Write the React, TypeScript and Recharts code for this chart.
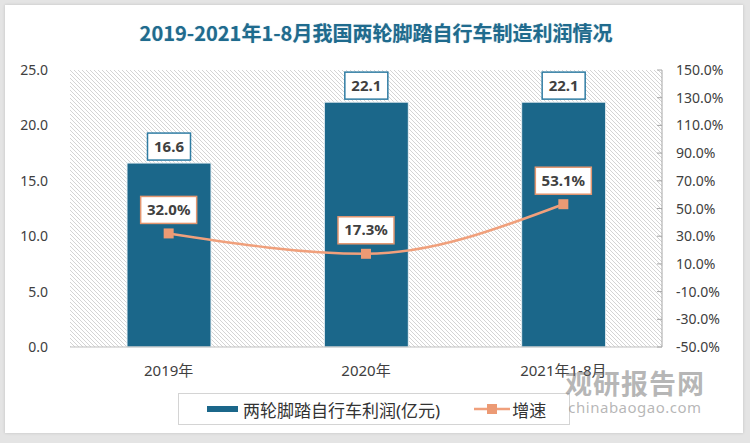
import React from 'react';
import { ComposedChart, Bar, Line, XAxis, YAxis, CartesianGrid, LabelList, Legend } from 'recharts';

// Kategorien und Werte aus dem Bild
const categories = ['2019年', '2020年', '2021年1-8月'];
const profit = [16.6, 22.1, 22.1];
const growth = [32.0, 17.3, 53.1];
const leftTicks = [0, 5, 10, 15, 20, 25];
const rightTicks = [-50, -30, -10, 10, 30, 50, 70, 90, 110, 130, 150];

const BAR_COLOR = '#1b678a';
const LINE_COLOR = '#f0a07c';
const FONT = '"Noto Sans", "Noto Sans CJK SC", sans-serif';

const data = categories.map((name, i) => ({ name, profit: profit[i], growth: growth[i] }));

// Kästchen über den Balken
const BarLabel = (props: any) => {
  const { x, y, width, value } = props;
  const cx = x + width / 2;
  const w = 43;
  const h = 27;
  return (
    <g>
      <rect x={cx - w / 2} y={y - 3 - h} width={w} height={h} fill="#fff" stroke="#2f7ca3" strokeWidth={1.5} />
      <text x={cx} y={y - 3 - h / 2 + 5} textAnchor="middle" fontSize={15} fontWeight="bold" fill="#404040" fontFamily={FONT}>
        {Number(value).toFixed(1)}
      </text>
    </g>
  );
};

// Kästchen über den Punkten
const LineLabel = (props: any) => {
  const { x, y, value } = props;
  const w = 56;
  const h = 27;
  return (
    <g>
      <rect x={x - w / 2} y={y - 10 - h} width={w} height={h} fill="#fff" stroke="#e39670" strokeWidth={1.5} />
      <text x={x} y={y - 10 - h / 2 + 5} textAnchor="middle" fontSize={15} fontWeight="bold" fill="#404040" fontFamily={FONT}>
        {Number(value).toFixed(1)}%
      </text>
    </g>
  );
};

const SquareDot = (props: any) => {
  const { cx, cy } = props;
  if (cx == null || cy == null) return null;
  return <rect x={cx - 5} y={cy - 5} width={10} height={10} fill="#ec9a74" />;
};

const RightTick = (props: any) => {
  const { x, y, payload } = props;
  return (
    <g>
      <line x1={x - 5} y1={y} x2={x} y2={y} stroke="#a6a6a6" />
      <text x={x + 14} y={y + 5} fontSize={14} fill="#404040" fontFamily={FONT}>
        {`${Number(payload.value).toFixed(1)}%`}
      </text>
    </g>
  );
};

const LegendBox = () => (
  <div
    style={{
      width: 392,
      height: 32,
      boxSizing: 'border-box',
      border: '1px solid #d4d4d4',
      background: '#fff',
      display: 'flex',
      alignItems: 'center',
      fontFamily: FONT,
      fontSize: 17,
      color: '#333',
    }}
  >
    <span style={{ display: 'inline-block', width: 31, height: 6, background: BAR_COLOR, marginLeft: 28, marginRight: 5 }} />
    <span>两轮脚踏自行车利润(亿元)</span>
    <svg width={36} height={12} style={{ marginLeft: 34 }}>
      <line x1={0} y1={6} x2={36} y2={6} stroke={LINE_COLOR} strokeWidth={2.5} />
      <rect x={13} y={1} width={10} height={10} fill="#ec9a74" />
    </svg>
    <span style={{ marginLeft: 2 }}>增速</span>
  </div>
);

export default function App() {
  return (
    <div style={{ position: 'absolute', left: 0, top: 0, width: 750, height: 443, background: '#e4e4e4', overflow: 'hidden' }}>
      <div
        style={{
          position: 'absolute',
          left: 5,
          top: 5,
          width: 738,
          height: 428,
          background: '#fff',
          boxShadow: '0 0 3px rgba(0,0,0,0.15)',
        }}
      />
      <div
        style={{
          position: 'absolute',
          left: 0,
          top: 18,
          width: 752,
          textAlign: 'center',
          fontFamily: '"Noto Sans CJK SC", sans-serif',
          fontWeight: 'bold',
          fontSize: 20,
          lineHeight: '30px',
          color: '#1f6b8e',
          textShadow: '0 0 1px rgba(31,107,142,0.4)',
        }}
      >
        2019-2021年1-8月我国两轮脚踏自行车制造利润情况
      </div>
      <div style={{ position: 'absolute', left: 0, top: 0 }}>
        <ComposedChart width={750} height={443} data={data} margin={{ top: 70, right: 0, bottom: 66, left: 0 }}>
          <defs>
            <pattern id="hatch" patternUnits="userSpaceOnUse" width={4} height={4}>
              <path d="M-1,-1 l2,2 M0,0 l4,4 M3,3 l2,2" stroke="#d4d4d4" strokeWidth={1} />
            </pattern>
          </defs>
          <CartesianGrid horizontal={false} vertical={false} fill="url(#hatch)" />
          <XAxis
            dataKey="name"
            height={30}
            tickLine={false}
            axisLine={{ stroke: '#bfbfbf' }}
            tickMargin={12}
            tick={{ fontSize: 15, fill: '#404040', fontFamily: FONT }}
          />
          <YAxis
            yAxisId="left"
            width={70}
            domain={[0, 25]}
            ticks={leftTicks}
            interval={0}
            axisLine={false}
            tickLine={false}
            tickSize={0}
            tickMargin={22}
            tickFormatter={(v: number) => v.toFixed(1)}
            tick={{ fontSize: 14, fill: '#404040', fontFamily: FONT }}
          />
          <YAxis
            yAxisId="right"
            orientation="right"
            width={88}
            domain={[-50, 150]}
            ticks={rightTicks}
            interval={0}
            axisLine={{ stroke: '#a6a6a6' }}
            tickLine={false}
            tickSize={0}
            tickMargin={0}
            tick={<RightTick />}
          />
          <Bar yAxisId="left" dataKey="profit" barSize={84} fill={BAR_COLOR} stroke="#e8f0f4" strokeWidth={1} isAnimationActive={false}>
            <LabelList dataKey="profit" content={<BarLabel />} />
          </Bar>
          <Line
            yAxisId="right"
            type="monotone"
            dataKey="growth"
            stroke={LINE_COLOR}
            strokeWidth={2.5}
            dot={<SquareDot />}
            activeDot={false}
            isAnimationActive={false}
          >
            <LabelList dataKey="growth" content={<LineLabel />} />
          </Line>
          <Legend
            layout="horizontal"
            verticalAlign="middle"
            align="center"
            content={<LegendBox />}
            wrapperStyle={{ left: 178, top: 393, width: 392, height: 32 }}
          />
        </ComposedChart>
      </div>
      <div
        style={{
          position: 'absolute',
          left: 560,
          top: 368,
          width: 150,
          textAlign: 'center',
          pointerEvents: 'none',
          color: 'rgba(110,110,110,0.5)',
          fontFamily: '"Noto Sans CJK SC", sans-serif',
        }}
      >
        <div style={{ fontSize: 27, fontWeight: 'bold', lineHeight: '30px', letterSpacing: 1 }}>观研报告网</div>
        <div style={{ fontSize: 15, lineHeight: '18px', letterSpacing: 0.5, fontFamily: FONT }}>chinabaogao.com</div>
      </div>
    </div>
  );
}
